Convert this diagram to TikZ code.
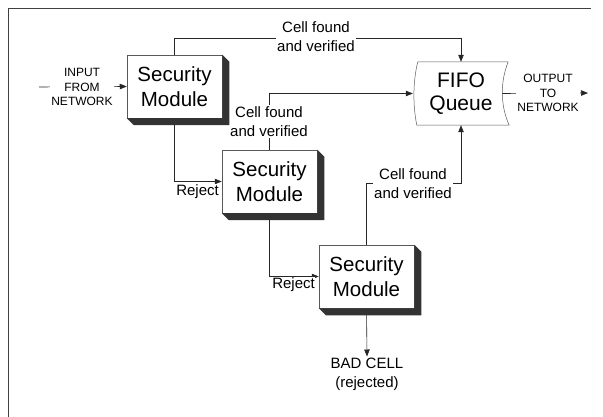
\documentclass[tikz,border=0pt]{standalone}
\usepackage{fontspec}
\setmainfont{Liberation Sans}
\usetikzlibrary{arrows.meta,calc}
\pgfdeclarelayer{bg}
\pgfsetlayers{bg,main}

\tikzset{
  modbox/.style={draw=black!65, line width=0.5pt, fill=white,
    minimum width=95pt, minimum height=63pt, inner sep=0pt,
    align=center, font=\fontsize{20.5}{25}\selectfont},
  flow/.style={draw=black!85, line width=0.6pt,
    -{Triangle[length=7pt,width=5.5pt]}},
  lbl/.style={fill=white, inner sep=1pt, align=center,
    font=\fontsize{15}{19}\selectfont},
  capslbl/.style={fill=white, inner sep=1pt, align=center,
    font=\fontsize{12}{14.5}\selectfont},
  extrude/.style={fill=black!80, draw=none},
}

% dark extruded edge on the right and bottom of a module box
\newcommand\modshadow[1]{%
  \fill[extrude] (#1.north east) -- ++(7,7) -- ($(#1.south east)+(7,7)$)
    -- ($(#1.south west)+(7,7)$) -- (#1.south west) -- (#1.south east) -- cycle;}

\begin{document}
\begin{tikzpicture}[x=1pt,y=-1pt]
  \useasboundingbox (0,0) rectangle (603,417);

  % page frame
  \draw[black!75, line width=0.8pt] (8,417) -- (8,8) -- (591,8);

  % labels on the connectors
  \node[lbl] (lab1) at (316,37) {Cell found\\and verified};
  \node[lbl] (lab2) at (269,121.5) {Cell found\\and verified};
  \node[lbl] (lab3) at (413,184) {Cell found\\and verified};
  \node[capslbl] (inlab) at (82,87) {INPUT\\FROM\\NETWORK};
  \node[capslbl] (outlab) at (548,93) {OUTPUT\\TO\\NETWORK};
  \node[lbl, inner sep=0pt, anchor=north east] (rej1) at (219,184) {Reject};
  \node[lbl, inner sep=0pt, anchor=north east] (rej2) at (315,277) {Reject};

  % security modules
  \node[modbox] (sm1) at (174.5,86.5) {Security\\Module};
  \modshadow{sm1}
  \node[modbox] (sm2) at (269.5,181.5) {Security\\Module};
  \modshadow{sm2}
  \node[modbox] (sm3) at (366.5,276.5) {Security\\Module};
  \modshadow{sm3}

  % FIFO queue
  \node[minimum width=96pt, minimum height=63pt, inner sep=0pt, align=center,
        font=\fontsize{21}{23}\selectfont] (fifo) at (461,93.5) {FIFO\\Queue};
  \draw[black!65, line width=0.5pt]
    ($(fifo.north west)+(5,0)$) -- ($(fifo.north east)+(-1,0)$)
    .. controls ($(fifo.east)+(-9,-12)$) and ($(fifo.east)+(-9,12)$) .. (fifo.south east)
    -- ($(fifo.south west)+(4,0)$)
    .. controls ($(fifo.west)+(0,12)$) and ($(fifo.west)+(0,-12)$) .. cycle;

  % rejected cell
  \node[lbl] (bad) at (367,374) {BAD CELL\\(rejected)};

  % connector end points
  \coordinate (in) at (39,87);
  \coordinate (out) at (588,93);
  \coordinate (top) at (461,38);
  \coordinate (low) at (461,183);

  \begin{pgfonlayer}{bg}
    \draw[flow] (in) -- (sm1.west);
    \draw[flow] (sm1.north) |- (top) -- (fifo.north);
    \draw[flow] (sm2.north) |- (fifo.west);
    \draw[flow] (sm3.north) |- (low) -- (fifo.south);
    \draw[flow] ($(fifo.east)+(-7,0)$) -- (out);
    \draw[flow] (sm1.south) |- (sm2.west);
    \draw[flow] (sm2.south) |- (sm3.west);
    \draw[flow] (sm3.south) -- (bad.north);
  \end{pgfonlayer}
\end{tikzpicture}
\end{document}
